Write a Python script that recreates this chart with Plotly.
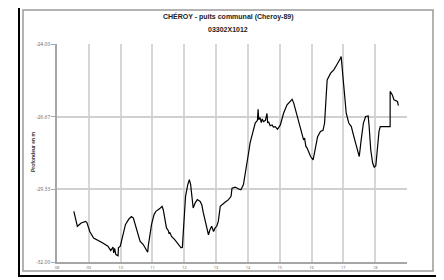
import plotly.graph_objects as go

# decimal years since 2000 (08 = 2008)
years = [8.53, 8.64, 8.76, 8.90, 8.94, 9.03, 9.15, 9.29, 9.44, 9.60, 9.69, 9.76, 9.78, 9.81, 9.85, 9.92, 9.93,
         9.99, 10.08, 10.15, 10.26, 10.34, 10.40, 10.48, 10.57, 10.61, 10.71, 10.78, 10.85, 10.87, 10.97,
         11.05, 11.11, 11.23, 11.30, 11.34, 11.39, 11.44, 11.50, 11.52, 11.55, 11.60, 11.70, 11.81, 11.90, 11.94,
         11.99, 12.04, 12.11, 12.16, 12.20, 12.23, 12.28, 12.34, 12.41, 12.50, 12.55, 12.60, 12.66, 12.71,
         12.76, 12.81, 12.86, 12.92, 12.97, 13.02, 13.07, 13.13, 13.18, 13.28, 13.39, 13.47, 13.50, 13.60,
         13.71, 13.78, 13.86, 13.91, 13.97, 14.02, 14.07, 14.16, 14.23, 14.30, 14.32, 14.34, 14.38, 14.42,
         14.45, 14.49, 14.55, 14.60, 14.62, 14.65, 14.70, 14.76, 14.80, 14.86, 14.90, 14.93, 15.02, 15.12,
         15.23, 15.33, 15.39, 15.44, 15.55, 15.65, 15.70, 15.75, 15.78, 15.82, 15.86, 15.90, 15.97, 16.05,
         16.12, 16.19, 16.28, 16.36, 16.41, 16.44, 16.49, 16.60, 16.70, 16.79, 16.86, 16.91, 16.93, 16.98,
         17.04, 17.09, 17.17, 17.25, 17.33, 17.44, 17.50, 17.56, 17.63, 17.70, 17.78, 17.81, 17.86, 17.92,
         17.97, 18.02, 18.07, 18.12, 18.16, 18.47, 18.47, 18.54, 18.59, 18.70, 18.73]
depth = [-30.14, -30.69, -30.57, -30.51, -30.55, -30.88, -31.12, -31.20, -31.30, -31.42, -31.58, -31.45, -31.67, -31.50, -31.73, -31.77, -31.48,
         -31.42, -31.00, -30.63, -30.42, -30.33, -30.39, -30.69, -31.06, -31.24, -31.36, -31.48, -31.64, -31.40, -30.63,
         -30.26, -30.14, -30.04, -29.96, -30.08, -30.45, -30.75, -30.85, -30.95, -30.93, -31.06, -31.18, -31.36, -31.48, -31.46,
         -30.33, -29.59, -29.16, -28.98, -29.16, -29.53, -30.02, -29.84, -29.71, -29.78, -29.90, -30.20, -30.51, -30.69,
         -31.00, -30.81, -30.69, -30.88, -30.75, -30.69, -30.51, -29.96, -29.90, -29.81, -29.71, -29.59, -29.29, -29.25,
         -29.32, -29.35, -29.16, -28.74, -28.37, -28.00, -27.62, -27.15, -26.90, -26.80, -26.40, -26.78, -26.70, -26.88,
         -26.75, -26.85, -26.80, -26.55, -26.90, -26.85, -27.00, -26.97, -27.05, -27.03, -27.12, -27.13, -26.97, -26.54,
         -26.23, -26.08, -26.03, -26.17, -26.66, -27.15, -27.30, -27.52, -27.45, -27.75, -27.82, -27.95, -28.13, -28.25,
         -27.88, -27.40, -27.21, -27.17, -26.90, -26.17, -25.32, -25.07, -24.95, -24.77, -24.65, -24.52, -24.46, -25.07,
         -25.93, -26.54, -26.90, -27.03, -27.40, -27.88, -28.13, -27.52, -26.90, -26.66, -26.64, -27.03, -27.88, -28.37,
         -28.52, -28.47, -27.88, -27.21, -27.03, -27.03, -25.74, -25.87, -26.05, -26.11, -26.26]

x_tickvals = [8, 9, 10, 11, 12, 13, 14, 15, 16, 17, 18]
x_ticktext = ["08", "09", "10", "11", "12", "13", "14", "15", "16", "17", "18"]
y_tickvals = [-24.0, -26.67, -29.33, -32.0]
y_ticktext = ["-24.00", "-26.67", "-29.33", "-32.00"]
title_lines = ["CHÉROY - puits communal (Cheroy-89)", "03302X1012"]
y_title = "Profondeur en m"

OFF = 8  # browser default body margin
W, H = 444 - OFF, 280 - OFF
L, R, T, B = 57 - OFF, 407 - OFF, 44 - OFF, 262 - OFF

fig = go.Figure()
fig.add_trace(go.Scatter(x=years, y=depth, mode="lines",
                         line=dict(color="black", width=1.2), hoverinfo="skip"))

def px_to_paper(px, py):
    px -= OFF
    py -= OFF
    return (px - L) / (R - L), (B - py) / (B - T)

shapes = []
for (x0, y0, x1, y1, col, w) in [(19, 6, 437, 276, "black", 2), (23, 10, 433, 271, "#9a9a9a", 1.5)]:
    a0, b0 = px_to_paper(x0, y1)
    a1, b1 = px_to_paper(x1, y0)
    shapes.append(dict(type="rect", xref="paper", yref="paper", x0=a0, y0=b0, x1=a1, y1=b1,
                       line=dict(color=col, width=w), fillcolor="rgba(0,0,0,0)", layer="above"))

annotations = []
for text, py in zip(title_lines, [17, 29]):
    ax, ay = px_to_paper(228, py)
    annotations.append(dict(text="<b>" + text + "</b>", x=ax, y=ay, xref="paper", yref="paper",
                            xanchor="center", yanchor="middle", showarrow=False,
                            font=dict(family="Liberation Sans, Arial", size=7, color="#222")))
ax, ay = px_to_paper(33, 152)
annotations.append(dict(text="<b>" + y_title + "</b>", x=ax, y=ay, xref="paper", yref="paper",
                        xanchor="center", yanchor="middle", showarrow=False, textangle=-90,
                        font=dict(family="Liberation Sans, Arial", size=5, color="#333")))

fig.update_layout(
    width=W, height=H,
    margin=dict(l=L, r=W - R, t=T, b=H - B, autoexpand=False),
    paper_bgcolor="white", plot_bgcolor="white",
    showlegend=False,
    shapes=shapes,
    annotations=annotations,
    xaxis=dict(range=[8, 19], tickvals=x_tickvals, ticktext=x_ticktext, automargin=False,
               showgrid=True, gridcolor="#d6d6d6", gridwidth=2,
               showline=True, linecolor="#a6a6a6", linewidth=1.5,
               ticks="", tickfont=dict(size=4, color="#666"), zeroline=False),
    yaxis=dict(range=[-32, -24], tickvals=y_tickvals, ticktext=y_ticktext, automargin=False,
               showgrid=True, gridcolor="#d0d0d0", gridwidth=1.5,
               showline=True, linecolor="#a6a6a6", linewidth=1.5,
               ticks="outside", ticklen=4, tickcolor="#a6a6a6",
               tickfont=dict(size=5, color="#666"), zeroline=False),
)

fig.write_html("out.html")
